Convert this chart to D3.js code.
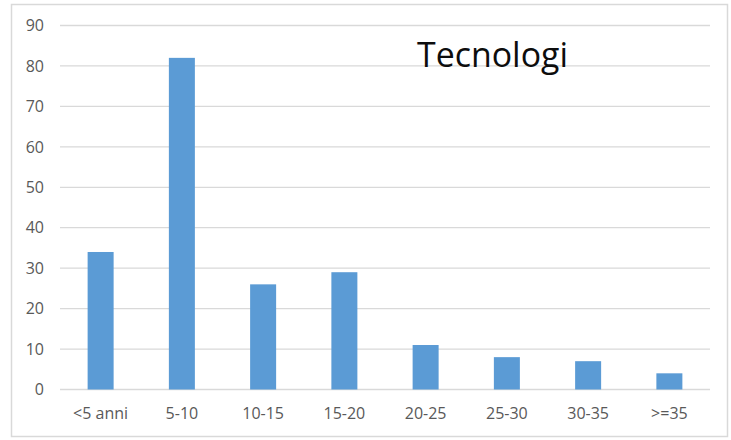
<!DOCTYPE html>
<meta charset="utf-8">
<head>
	<style>
		body { margin:0; background:#fff; }
		text { font-family: "Open Sans", sans-serif; }
	</style>
	<script src="https://d3js.org/d3.v7.min.js"></script>
</head>
<body>
<script>

	var categories = ["<5 anni", "5-10", "10-15", "15-20", "20-25", "25-30", "30-35", ">=35"];
	var values = [34, 82, 26, 29, 11, 8, 7, 4];
	var yTicks = [0, 10, 20, 30, 40, 50, 60, 70, 80, 90];
	var title = "Tecnologi";

	var width = 731, height = 440;

	var svg = d3.select("body").append("svg")
		.attr("width", width)
		.attr("height", height);

	// outer chart frame
	svg.append("rect")
		.attr("x", 11.5).attr("y", 4.5)
		.attr("width", 716).attr("height", 432)
		.attr("fill", "none")
		.attr("stroke", "#d9d9d9")
		.attr("stroke-width", 1.5);

	var x = d3.scaleBand()
		.domain(categories)
		.range([60, 710])
		.paddingInner(0.68)
		.paddingOuter(0.34);

	var y = d3.scaleLinear()
		.domain([0, 90])
		.range([389.5, 25.5]);

	// gridlines
	svg.append("g").selectAll("line")
		.data(yTicks)
	  .enter().append("line")
		.attr("x1", 60).attr("x2", 710)
		.attr("y1", function(d) {return y(d)})
		.attr("y2", function(d) {return y(d)})
		.style("stroke", "#d9d9d9")
		.style("stroke-width", 1.3);

	// y labels
	svg.append("g").selectAll("text")
		.data(yTicks)
	  .enter().append("text")
		.attr("x", 44)
		.attr("y", function(d) {return y(d)})
		.attr("dy", "0.36em")
		.attr("text-anchor", "end")
		.style("font-size", "16px")
		.style("fill", "#595959")
		.text(function(d) {return d});

	// bars
	svg.append("g").selectAll("rect")
		.data(values)
	  .enter().append("rect")
		.attr("x", function(d, i) {return x(categories[i])})
		.attr("width", x.bandwidth())
		.attr("y", function(d) {return y(d)})
		.attr("height", function(d) {return y(0) - y(d)})
		.style("fill", "#5b9bd5");

	// x labels
	svg.append("g").selectAll("text")
		.data(categories)
	  .enter().append("text")
		.attr("x", function(d) {return x(d) + x.bandwidth()/2})
		.attr("y", 419)
		.attr("text-anchor", "middle")
		.style("font-size", "16px")
		.style("fill", "#595959")
		.text(function(d) {return d});

	svg.append("text")
		.attr("x", 417)
		.attr("y", 67)
		.attr("textLength", 151)
		.attr("lengthAdjust", "spacingAndGlyphs")
		.style("font-size", "35px")
		.style("fill", "#0d0d0d")
		.text(title);

</script>
</body>
